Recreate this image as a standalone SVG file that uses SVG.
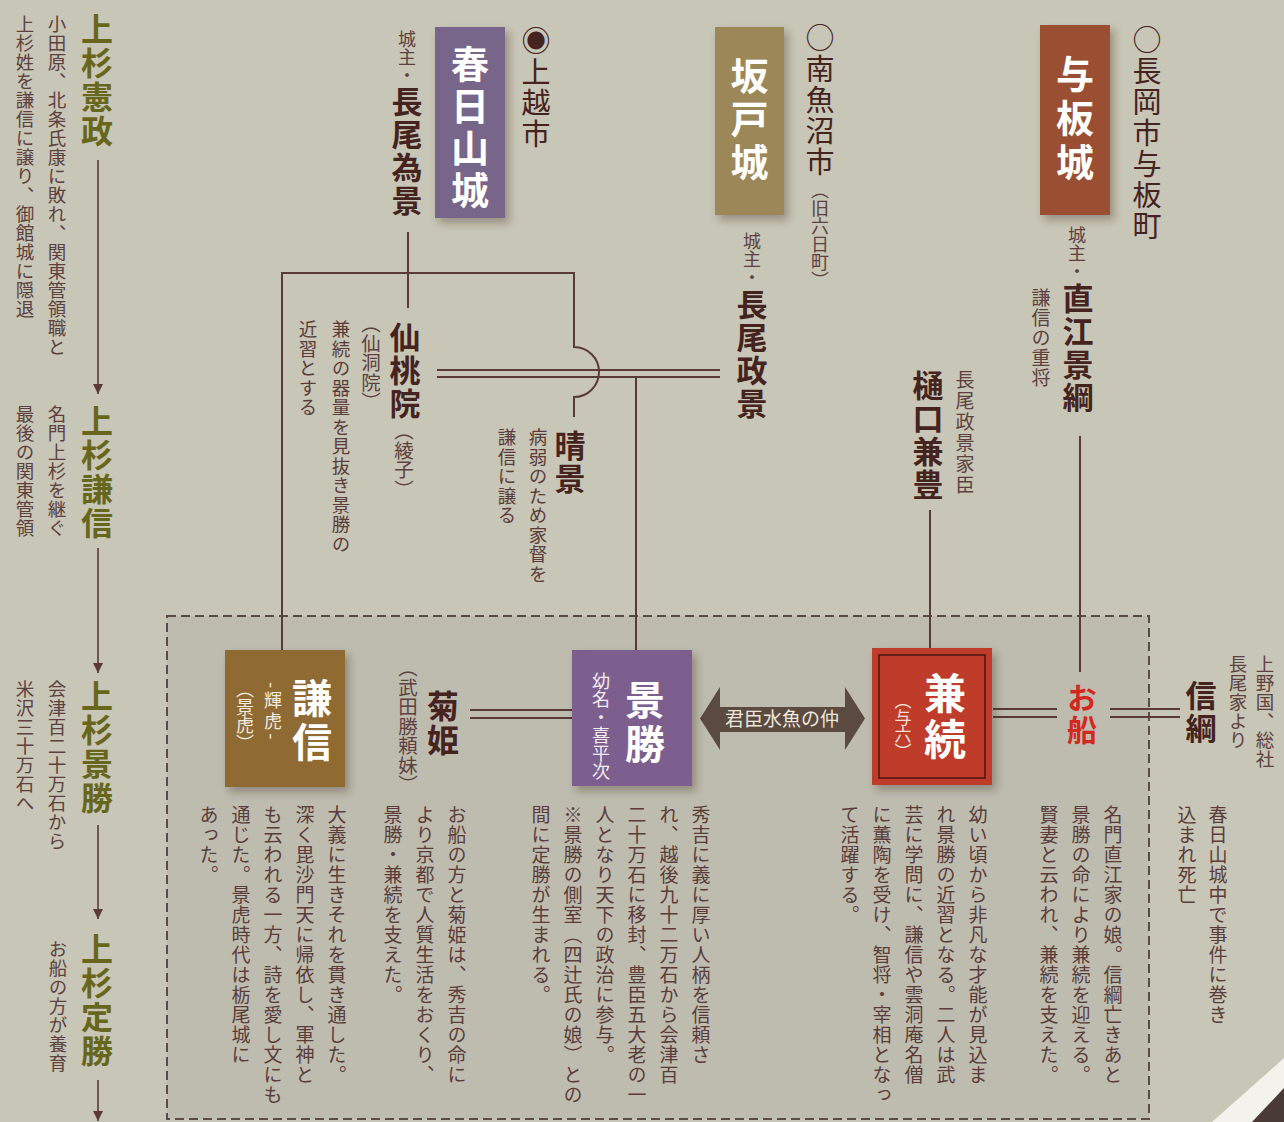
<svg xmlns="http://www.w3.org/2000/svg" width="1284" height="1122" viewBox="0 0 1284 1122">
<defs>
<style>
text{font-family:"Noto Sans CJK JP","Noto Sans CJK SC",sans-serif;}
.v{writing-mode:vertical-rl;}
.g{fill:#67661d;font-weight:700;font-size:32px;letter-spacing:2px;}
.ld{fill:#5c4140;font-size:18.5px;letter-spacing:0.5px;}
.nm{fill:#45231f;font-weight:700;font-size:31px;letter-spacing:2px;}
.sm{fill:#5c4140;font-size:18px;letter-spacing:1px;}
.pr{fill:#5c4140;font-size:19.5px;letter-spacing:0;}
.loc{fill:#45231f;font-size:29px;letter-spacing:2px;}
.ds{fill:#5a3d3a;font-size:19px;letter-spacing:1px;}
.bt{fill:#ffffff;font-weight:700;}
.ln{stroke:#5a3a36;stroke-width:2;fill:none;}
.la{stroke:#5a3a36;stroke-width:1.6;fill:none;marker-end:url(#ah);}
.box{filter:url(#sh);}
</style>
<filter id="sh" x="-20%" y="-20%" width="150%" height="150%">
<feDropShadow dx="4" dy="5" stdDeviation="4" flood-color="#3a2a20" flood-opacity="0.35"/>
</filter>
<marker id="ah" viewBox="0 0 10 10" refX="10" refY="5" markerWidth="11" markerHeight="10" markerUnits="userSpaceOnUse" orient="auto">
<path d="M0,0 L10,5 L0,10 z" fill="#5a3a36"/>
</marker>
</defs>

<rect x="0" y="0" width="1284" height="1122" fill="#c8c6b6"/>
<rect x="167" y="616" width="982" height="503" fill="#bebcaf" stroke="#5a4a48" stroke-width="2" stroke-dasharray="9 5"/>
<polygon points="1284,1058 1212,1122 1284,1122" fill="#f4f2ec"/>
<polygon points="1284,1088 1252,1122 1284,1122" fill="#4a3a36"/>

<!-- connectors -->
<g id="connectors">
<line class="la" x1="98" y1="160" x2="98" y2="394"/>
<line class="la" x1="98" y1="548" x2="98" y2="673"/>
<line class="la" x1="98" y1="825" x2="98" y2="919"/>
<line class="la" x1="98" y1="1080" x2="98" y2="1121"/>
<line class="ln" x1="408" y1="232" x2="408" y2="308"/>
<path class="ln" d="M282,650 V273 H574 V347 A25,25 0 0 1 574,397 V417"/>
<line class="ln" x1="437" y1="370" x2="720" y2="370"/>
<line class="ln" x1="437" y1="377" x2="720" y2="377"/>
<line class="ln" x1="636" y1="377" x2="636" y2="650"/>
<line class="ln" x1="470" y1="710" x2="572" y2="710"/>
<line class="ln" x1="470" y1="718" x2="572" y2="718"/>
<line class="ln" x1="930" y1="510" x2="930" y2="648"/>
<line class="ln" x1="1080" y1="436" x2="1080" y2="672"/>
<line class="ln" x1="993" y1="709" x2="1057" y2="709"/>
<line class="ln" x1="993" y1="717" x2="1057" y2="717"/>
<line class="ln" x1="1110" y1="709" x2="1180" y2="709"/>
<line class="ln" x1="1110" y1="717" x2="1180" y2="717"/>
<g id="kunshin">
<polygon points="700,718.5 720,687 720,707 845,707 845,687 865,718.5 845,750 845,732 720,732 720,750" fill="#5b4a40"/>
<text x="782" y="726" text-anchor="middle" style="font-size:19px;fill:#ece6dc">君臣水魚の仲</text>
</g>
</g>

<!-- left lineage column -->
<g id="n-norimasa">
<text class="v g" x="97" y="13">上杉憲政</text>
<text class="v ld" x="57" y="15">小田原、北条氏康に敗れ、関東管領職と</text>
<text class="v ld" x="25" y="15">上杉姓を謙信に譲り、御館城に隠退</text>
</g>
<g id="n-kenshin-l">
<text class="v g" x="97" y="405">上杉謙信</text>
<text class="v ld" x="57" y="405">名門上杉を継ぐ</text>
<text class="v ld" x="25" y="405">最後の関東管領</text>
</g>
<g id="n-kagekatsu-l">
<text class="v g" x="97" y="680">上杉景勝</text>
<text class="v ld" x="57" y="680">会津百二十万石から</text>
<text class="v ld" x="25" y="680">米沢三十万石へ</text>
</g>
<g id="n-sadakatsu">
<text class="v g" x="97" y="933">上杉定勝</text>
<text class="v ld" x="58" y="940">お船の方が養育</text>
</g>

<!-- castles -->
<g id="n-kasugayama">
<rect class="box" x="435" y="27" width="70" height="191" fill="#77658a"/>
<text class="v bt" x="470" y="45" style="font-size:38px;letter-spacing:4px">春日山城</text>
<text class="v loc" x="536" y="26">◉上越市</text>
<text class="v sm" x="407" y="30" style="letter-spacing:0">城主・</text>
<text class="v nm" x="407" y="86">長尾為景</text>
</g>
<g id="n-sakado">
<rect class="box" x="715" y="27" width="69" height="188" fill="#9b8758"/>
<text class="v bt" x="749.5" y="57" style="font-size:38px;letter-spacing:5px">坂戸城</text>
<text class="v loc" x="820" y="23">○南魚沼市</text>
<text class="v pr" x="820" y="181" style="font-size:18px">（旧六日町）</text>
<text class="v sm" x="752" y="232" style="letter-spacing:0">城主・</text>
<text class="v nm" x="752" y="289">長尾政景</text>
</g>
<g id="n-yoita">
<rect class="box" x="1040" y="25" width="70" height="190" fill="#9b5033"/>
<text class="v bt" x="1075" y="55" style="font-size:38px;letter-spacing:6px">与板城</text>
<text class="v loc" x="1147" y="25">○長岡市与板町</text>
<text class="v sm" x="1077" y="226" style="letter-spacing:0">城主・</text>
<text class="v nm" x="1078" y="283">直江景綱</text>
<text class="v sm" x="1041" y="288" style="font-size:19px">謙信の重将</text>
</g>

<!-- family members top -->
<g id="n-sentoin">
<text class="v nm" x="405" y="322">仙桃院</text>
<text class="v pr" x="371" y="314">（仙洞院）</text>
<text class="v pr" x="404" y="421">（綾子）</text>
<text class="v ds" x="341" y="320" style="font-size:18.5px">兼続の器量を見抜き景勝の</text>
<text class="v ds" x="308" y="320" style="font-size:18.5px">近習とする</text>
</g>
<g id="n-harukage">
<text class="v nm" x="570" y="430">晴景</text>
<text class="v ds" x="538" y="428" style="font-size:18.5px">病弱のため家督を</text>
<text class="v ds" x="507" y="428" style="font-size:18.5px">謙信に譲る</text>
</g>
<g id="n-kanetoyo">
<text class="v nm" x="928" y="370">樋口兼豊</text>
<text class="v sm" x="965" y="370" style="font-size:19px;letter-spacing:2px">長尾政景家臣</text>
</g>

<!-- bottom nodes -->
<g id="n-kenshin">
<rect class="box" x="225" y="650" width="120" height="137" fill="#8f6a33"/>
<text class="v bt" x="312" y="678" style="font-size:40px;letter-spacing:4px">謙信</text>
<text class="v" x="273" y="682" style="font-size:18px;fill:#f3ece0;letter-spacing:3px">-輝虎-</text>
<text class="v" x="245" y="680" style="font-size:18px;fill:#f3ece0">（景虎）</text>
<text class="v ds" x="337" y="805">大義に生きそれを貫き通した。</text>
<text class="v ds" x="305" y="805">深く毘沙門天に帰依し、軍神と</text>
<text class="v ds" x="273" y="805">も云われる一方、詩を愛し文にも</text>
<text class="v ds" x="241" y="805">通じた。景虎時代は栃尾城に</text>
<text class="v ds" x="209" y="805">あった。</text>
</g>
<g id="n-kikuhime">
<text class="v nm" x="443" y="690" style="font-size:32px">菊姫</text>
<text class="v pr" x="408" y="658">（武田勝頼妹）</text>
<text class="v ds" x="457" y="805">お船の方と菊姫は、秀吉の命に</text>
<text class="v ds" x="425" y="805">より京都で人質生活をおくり、</text>
<text class="v ds" x="393" y="805">景勝・兼続を支えた。</text>
</g>
<g id="n-kagekatsu">
<rect class="box" x="572" y="650" width="120" height="136" fill="#7b5e8e"/>
<text class="v bt" x="645" y="680" style="font-size:40px;letter-spacing:4px">景勝</text>
<text class="v" x="601" y="672" style="font-size:18px;fill:#f3ecf3">幼名・喜平次</text>
<text class="v ds" x="701" y="805">秀吉に義に厚い人柄を信頼さ</text>
<text class="v ds" x="669" y="805">れ、越後九十二万石から会津百</text>
<text class="v ds" x="637" y="805">二十万石に移封、豊臣五大老の一</text>
<text class="v ds" x="605" y="805">人となり天下の政治に参与。</text>
<text class="v ds" x="573" y="805">※景勝の側室（四辻氏の娘）との</text>
<text class="v ds" x="541" y="805">間に定勝が生まれる。</text>
</g>
<g id="n-kanetsugu">
<rect class="box" x="872" y="648" width="120" height="137" fill="#bf3a2a"/>
<rect x="879" y="655" width="106" height="123" fill="none" stroke="#4a1510" stroke-width="1.5"/>
<text class="v bt" x="945" y="672" style="font-size:42px;letter-spacing:4px">兼続</text>
<text class="v" x="903" y="692" style="font-size:17px;fill:#f5e0d8">（与六）</text>
<text class="v ds" x="978" y="805">幼い頃から非凡な才能が見込ま</text>
<text class="v ds" x="946" y="805">れ景勝の近習となる。二人は武</text>
<text class="v ds" x="914" y="805">芸に学問に、謙信や雲洞庵名僧</text>
<text class="v ds" x="882" y="805">に薫陶を受け、智将・宰相となっ</text>
<text class="v ds" x="850" y="805">て活躍する。</text>
</g>
<g id="n-osen">
<text class="v nm" x="1082" y="683" style="font-size:30px;fill:#d3281f">お船</text>
<text class="v ds" x="1113" y="805">名門直江家の娘。信綱亡きあと</text>
<text class="v ds" x="1081" y="805">景勝の命により兼続を迎える。</text>
<text class="v ds" x="1049" y="805">賢妻と云われ、兼続を支えた。</text>
</g>
<g id="n-nobutsuna">
<text class="v nm" x="1201" y="680">信綱</text>
<text class="v sm" x="1265" y="655" style="font-size:18.5px;letter-spacing:0.5px">上野国、総社</text>
<text class="v sm" x="1238" y="655" style="font-size:18.5px;letter-spacing:0.5px">長尾家より</text>
<text class="v ds" x="1218" y="805">春日山城中で事件に巻き</text>
<text class="v ds" x="1187" y="805">込まれ死亡</text>
</g>
</svg>
